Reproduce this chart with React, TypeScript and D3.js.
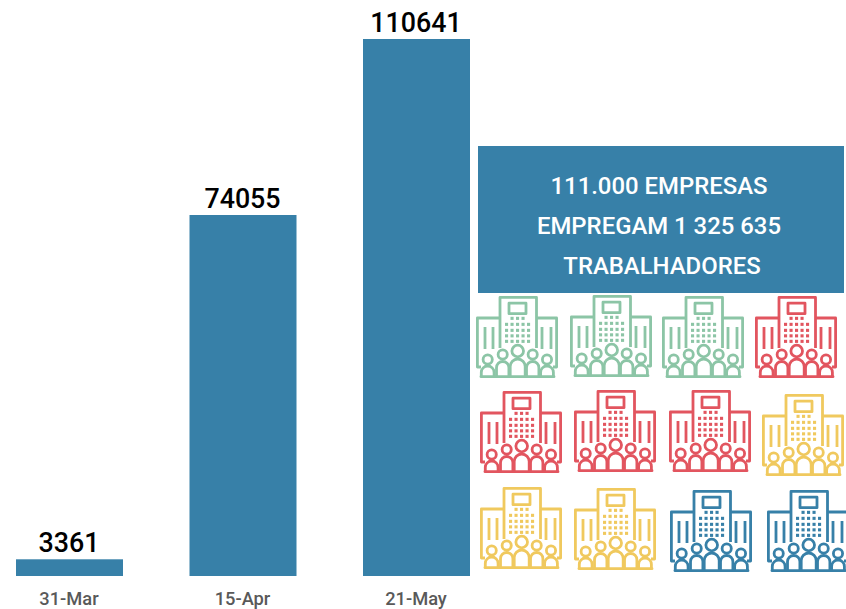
import React from "react";
import * as d3 from "d3";

const dates = ["31-Mar", "15-Apr", "21-May"];
const values = [3361, 74055, 110641];
const boxLines = ["111.000 EMPRESAS", "EMPREGAM 1 325 635", "TRABALHADORES"];
const GREEN = "#8cc5a6";
const RED = "#e2555f";
const YELLOW = "#f0c95e";
const BLUE = "#3780a8";
const iconColors = [GREEN, GREEN, GREEN, RED, RED, RED, RED, YELLOW, YELLOW, YELLOW, BLUE, BLUE];
const iconX = [476, 570, 662, 755, 480, 574, 669, 762, 480, 574, 670, 767];
const iconY = [296, 295, 296, 296, 391, 390, 390, 394, 487, 488, 490, 490];

const x = d3.scaleBand<string>().domain(dates).range([16, 470]).paddingInner(0.3833).paddingOuter(0);
// bar tops as measured in the picture
const y = d3.scaleLinear().domain([0, 3361, 74055, 110641]).range([576, 559.3, 215, 39]);
const FONT = "Roboto, sans-serif";

const dotCols = [5, 10.5, 16, 21.5, 27];
const dotRows = [
  { dy: 0, cols: [10.5, 16, 21.5] },
  { dy: 6, cols: dotCols },
  { dy: 12, cols: dotCols },
  { dy: 17.5, cols: dotCols },
  { dy: 23, cols: dotCols },
];
const people = [
  { cx: 11.7, hy: 63.5, r: 4.6, w: 6.4, top: 70 },
  { cx: 26.7, hy: 58.5, r: 4.6, w: 6.2, top: 65.5 },
  { cx: 41.7, hy: 55, r: 5.8, w: 7.5, top: 63 },
  { cx: 56.7, hy: 58.5, r: 4.6, w: 6.2, top: 65.5 },
  { cx: 71, hy: 63.5, r: 4.6, w: 6.4, top: 70 },
];

function Icon({ color, px, py }: { color: string; px: number; py: number }) {
  const sw = 2.8;
  const half = sw / 2;
  return (
    <g transform={`translate(${px},${py})`} fill="none" stroke={color} strokeWidth={sw} strokeLinejoin="round">
      <path d={`M24 52V${half}H60.5V52`} />
      <rect x={33} y={7.2} width={17} height={10.5} />
      <path d={`M5 71H${half}V22H24M60.5 22H${82 - half}V71H77`} />
      <path d="M9 31V53M17 31V53M66 31V53M75 31V53" />
      <g fill={color} stroke="none">
        {dotRows.flatMap((row, i) =>
          row.cols.map((c) => <rect key={`${i}-${c}`} x={c + 24} y={20.8 + row.dy} width={3.1} height={3.1} />)
        )}
      </g>
      {people.map((p, i) => (
        <g key={i}>
          <circle cx={p.cx} cy={p.hy} r={p.r} fill="#fff" />
          <path
            d={`M${p.cx - p.w} 80.7V${p.top + p.w}A${p.w} ${p.w} 0 0 1 ${p.cx + p.w} ${p.top + p.w}V80.7`}
            fill="#fff"
          />
        </g>
      ))}
      <path d="M5 80.7H78" strokeLinecap="round" />
    </g>
  );
}

export default function App() {
  return (
    <svg
      width={846}
      height={609}
      viewBox="0 0 846 609"
      style={{ position: "absolute", left: 0, top: 0, background: "#fff", display: "block" }}
    >
      {dates.map((d, i) => (
        <g key={d}>
          <rect x={x(d)} y={y(values[i])} width={x.bandwidth()} height={y(0) - y(values[i])} fill={BLUE} />
          <text
            x={x(d)! + x.bandwidth() / 2 - 0.5}
            y={y(values[i]) - 7}
            textAnchor="middle"
            fontFamily={FONT}
            fontSize={26.8}
            fontWeight={500}
            fill="#000"
          >
            {values[i]}
          </text>
          <text
            x={x(d)! + x.bandwidth() / 2 - 0.5}
            y={605}
            textAnchor="middle"
            fontFamily={FONT}
            fontSize={18.3}
            fontWeight={500}
            fill="#595959"
          >
            {d}
          </text>
        </g>
      ))}
      <rect x={478} y={146} width={366} height={147} fill={BLUE} />
      {boxLines.map((line, i) => (
        <text
          key={line}
          x={i === 2 ? 662 : 659}
          y={194 + i * 40}
          textAnchor="middle"
          fontFamily={FONT}
          fontSize={23.9}
          fontWeight={500}
          fill="#fff"
        >
          {line}
        </text>
      ))}
      {iconColors.map((c, i) => (
        <Icon key={i} color={c} px={iconX[i]} py={iconY[i]} />
      ))}
    </svg>
  );
}
